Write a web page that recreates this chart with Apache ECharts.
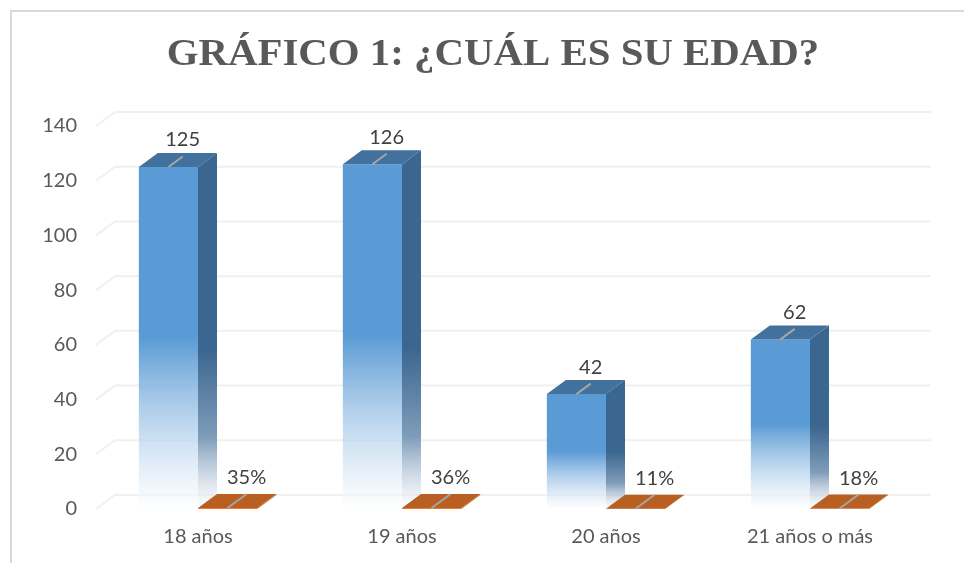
<!DOCTYPE html>
<html>
<head>
<meta charset="utf-8">
<style>
  html, body { margin: 0; padding: 0; background: #fff; }
  #chart { width: 964px; height: 563px; }
</style>
<script src="https://cdn.jsdelivr.net/npm/echarts@6/dist/echarts.min.js"></script>
</head>
<body>
<div id="chart"></div>
<script>
const categories = ['18 años', '19 años', '20 años', '21 años o más']
const counts = [125, 126, 42, 62]
const shares = [0.35, 0.36, 0.11, 0.18]
const yTicks = [0, 20, 40, 60, 80, 100, 120, 140]

const depthX = 19
const depthY = 14

// wall lines: one slanted piece on the side wall, then along the back wall
function renderWall(params, api) {
  const y = api.coord([0, api.value(0)])[1]
  const x0 = params.coordSys.x
  const x1 = x0 + params.coordSys.width + depthX
  return {
    type: 'polyline',
    silent: true,
    shape: { points: [[x0, y], [x0 + depthX, y - depthY], [x1, y - depthY]] },
    style: { fill: null, stroke: '#F0F0F0', lineWidth: 2 }
  }
}

// 3d box, the band is shared: counts go left of the centre, shares go right
function renderBox(offset, text, colors) {
  return function (params, api) {
    const idx = api.value(0)
    const top = api.coord([idx, api.value(1)])
    const base = api.coord([idx, 0])
    const w = api.size([1, 0])[0] * 0.29
    const l = top[0] + offset * w
    const r = l + w
    const leaderX = (l + r) / 2
    const children = [
      {
        type: 'polygon',
        shape: { points: [[r, top[1]], [r + depthX, top[1] - depthY], [r + depthX, base[1] - depthY], [r, base[1]]] },
        style: { fill: colors.side }
      },
      {
        type: 'polygon',
        shape: { points: [[l, top[1]], [r, top[1]], [r, base[1]], [l, base[1]]] },
        style: { fill: colors.front }
      },
      {
        type: 'polygon',
        shape: { points: [[l, top[1]], [r, top[1]], [r + depthX, top[1] - depthY], [l + depthX, top[1] - depthY]] },
        style: { fill: colors.top }
      },
      {
        type: 'line',
        shape: {
          x1: leaderX,
          y1: top[1],
          x2: leaderX + depthX * colors.leader,
          y2: top[1] - depthY * colors.leader
        },
        style: { stroke: '#A6A6A6', lineWidth: 2 }
      },
      {
        type: 'text',
        style: {
          x: leaderX + depthX * colors.leader,
          y: top[1] - depthY - colors.labelGap,
          text: text(idx),
          fill: '#404040',
          font: '20px Lato',
          align: 'center',
          verticalAlign: 'middle'
        }
      }
    ]
    return { type: 'group', children: children }
  }
}

const fadeFront = (c) => new echarts.graphic.LinearGradient(0, 0, 0, 1, [
  { offset: 0, color: c },
  { offset: 0.5, color: c },
  { offset: 1, color: 'rgba(255,255,255,0.6)' }
])

const fadeSide = (c) => new echarts.graphic.LinearGradient(0, 0, 0, 1, [
  { offset: 0, color: c },
  { offset: 0.55, color: c },
  { offset: 0.8, color: '#7F9DBA' },
  { offset: 1, color: 'rgba(255,255,255,0.6)' }
])

const chart = echarts.init(document.getElementById('chart'), null, { renderer: 'canvas' })
chart.setOption({
  animation: false,
  backgroundColor: '#fff',
  graphic: [
    {
      type: 'polyline',
      silent: true,
      shape: { points: [[11, 563], [11, 11], [964, 11]] },
      style: { fill: null, stroke: '#D9D9D9', lineWidth: 2 }
    },
    {
      type: 'text',
      silent: true,
      x: 493,
      y: 55,
      scaleX: 1.075,
      style: {
        text: 'GRÁFICO 1: ¿CUÁL ES SU EDAD?',
        font: 'bold 38px "Liberation Serif"',
        fill: '#595959',
        align: 'center',
        verticalAlign: 'middle'
      }
    }
  ],
  grid: { left: 96, top: 126, width: 816, height: 383 },
  xAxis: {
    type: 'category',
    data: categories,
    axisLine: { show: false },
    axisTick: { show: false },
    axisLabel: { fontFamily: 'Lato', fontSize: 20, color: '#595959', margin: 18 }
  },
  yAxis: {
    type: 'value',
    min: 0,
    max: 140,
    interval: 20,
    splitLine: { show: false },
    axisLabel: { fontFamily: 'Lato', fontSize: 20, color: '#595959', margin: 19 }
  },
  series: [
    {
      type: 'custom',
      coordinateSystem: 'cartesian2d',
      renderItem: renderWall,
      encode: { y: 0 },
      data: yTicks.map((v) => [v]),
      silent: true,
      z: 1
    },
    {
      type: 'custom',
      renderItem: renderBox(-1, (i) => String(counts[i]), {
        front: fadeFront('#5B9BD5'),
        side: fadeSide('#3A668F'),
        top: '#41719C',
        leader: 0.75,
        labelGap: 13
      }),
      encode: { x: 0, y: 1 },
      data: counts.map((v, i) => [i, v]),
      z: 2
    },
    {
      type: 'custom',
      renderItem: renderBox(0, (i) => Math.round(shares[i] * 100) + '%', {
        front: '#ED7D31',
        side: '#B35E22',
        top: '#B85F21',
        leader: 1,
        labelGap: 16
      }),
      encode: { x: 0, y: 1 },
      data: shares.map((v, i) => [i, v]),
      z: 3
    }
  ]
})
</script>
</body>
</html>
